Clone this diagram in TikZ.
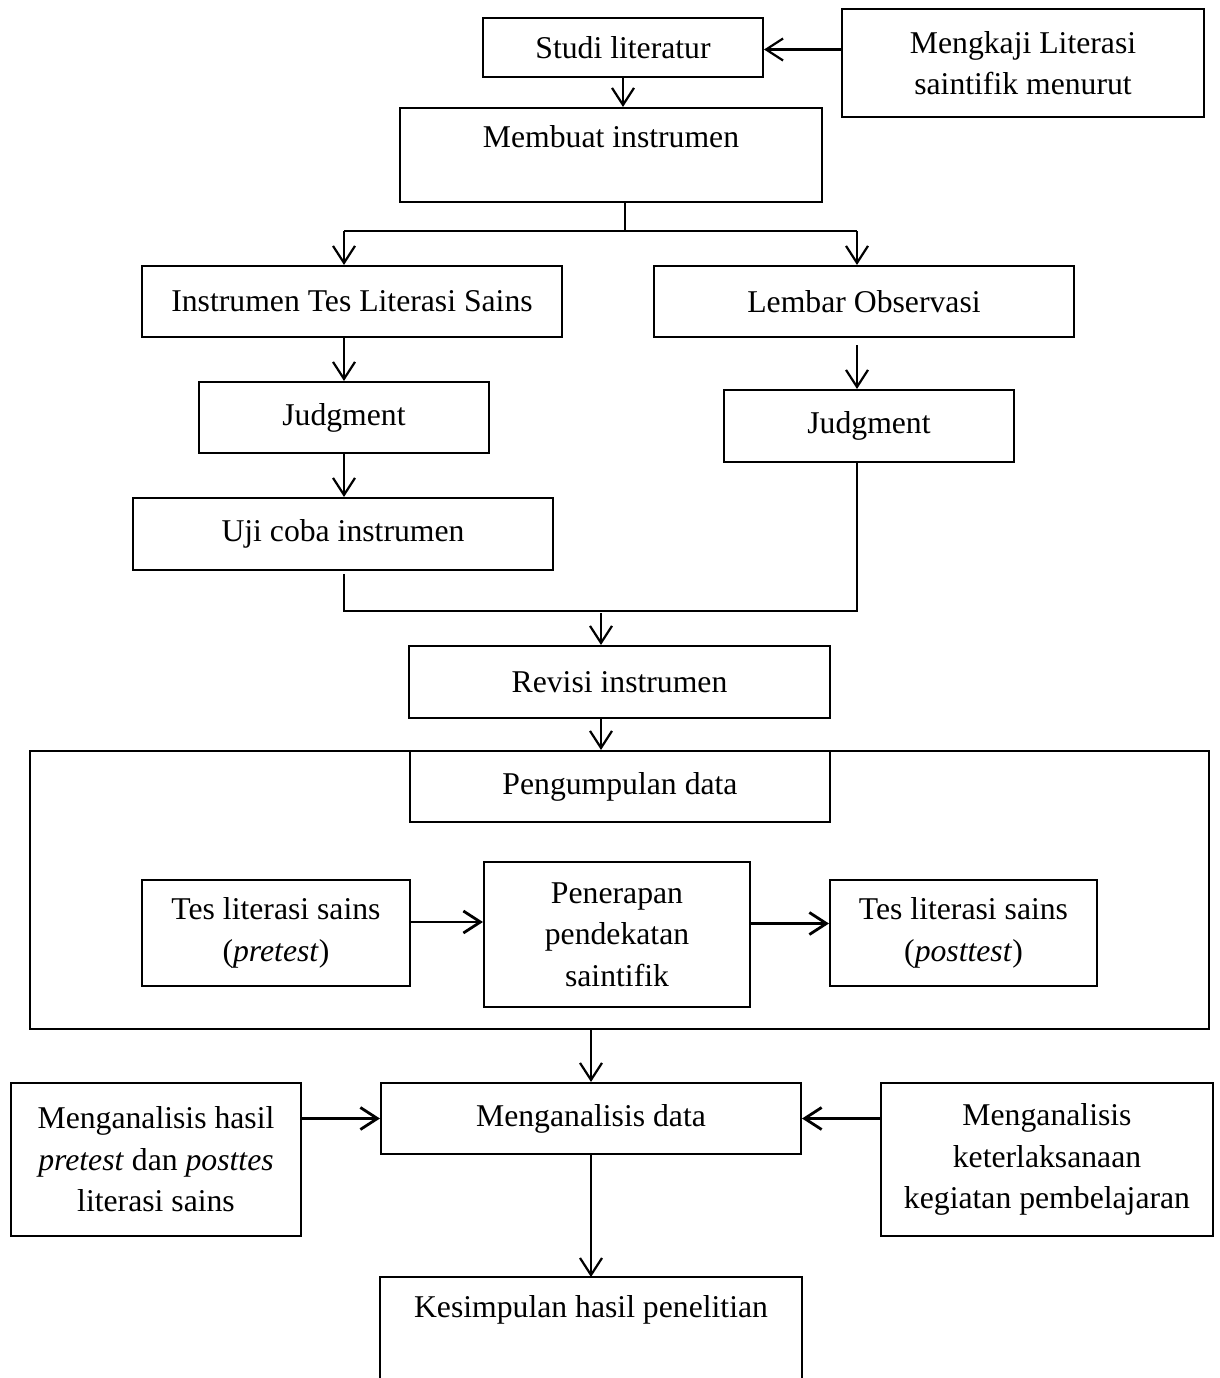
\documentclass[tikz,border=0pt]{standalone}
\usepackage{fontspec}
\setmainfont{Liberation Serif}
\usetikzlibrary{arrows.meta}

\begin{document}
\begin{tikzpicture}[x=1pt, y=-1pt,
        font=\fontsize{31.7}{41.5}\selectfont,
        box/.style={draw, line width=2.1pt, align=center, inner sep=0pt},
        arr/.style={line width=2.2pt, -{Straight Barb[length=17pt, width=22pt]}},
        thickarr/.style={arr, line width=2.8pt}]
        % 0. Page frame
        \path[use as bounding box] (0,0) rectangle (1219,1378);
        \coordinate (bottom) at (0,1378);

        % 1. Top row
        \node[box, minimum width=280pt, minimum height=59pt] (studi) at (623,47.5) {Studi literatur};
        \node[box, minimum width=362pt, minimum height=108pt] (mengkaji) at (1023,63) {Mengkaji Literasi\\saintifik menurut};
        \node[box, minimum width=422pt, minimum height=94pt, text depth=37pt] (membuat) at (611,155) {Membuat instrumen};

        % 2. Two columns of instruments
        \node[box, minimum width=420pt, minimum height=71pt] (instrumen) at (352,301.5) {Instrumen Tes Literasi Sains};
        \node[box, minimum width=420pt, minimum height=71pt] (lembar) at (864,301.5) {Lembar Observasi};
        \node[box, minimum width=290pt, minimum height=71pt] (judgeL) at (344,417.5) {Judgment};
        \node[box, minimum width=290pt, minimum height=72pt] (judgeR) at (869,426) {Judgment};
        \node[box, minimum width=420pt, minimum height=72pt] (uji) at (343,534) {Uji coba instrumen};
        \node[box, minimum width=421pt, minimum height=72pt] (revisi) at (619.5,682) {Revisi instrumen};

        % 3. Data collection block
        \node[box, minimum width=1179pt, minimum height=278pt] (outer) at (619.5,890) {};
        \node[box, minimum width=420pt, minimum height=71pt] (kumpul) at (620,786.5) {Pengumpulan data};
        \node[box, minimum width=268pt, minimum height=106pt] (pre) at (276,933) {Tes literasi sains\\(\textit{pretest})};
        \node[box, minimum width=266pt, minimum height=145pt] (terap) at (617,934.5) {Penerapan\\pendekatan\\saintifik};
        \node[box, minimum width=267pt, minimum height=106pt] (post) at (963.5,933) {Tes literasi sains\\(\textit{posttest})};

        % 4. Analysis row
        \node[box, minimum width=290pt, minimum height=153pt] (mhasil) at (156,1159.5) {Menganalisis hasil\\\textit{pretest} dan \textit{posttes}\\literasi sains};
        \node[box, minimum width=420pt, minimum height=71pt] (mdata) at (591,1118.5) {Menganalisis data};
        \node[box, minimum width=332pt, minimum height=153pt] (mket) at (1047,1159.5) {Menganalisis\\keterlaksanaan\\kegiatan pembelajaran};

        % 5. Conclusion (box runs off the page)
        \node[box, draw=none, minimum width=420pt, minimum height=94pt, text depth=37pt, anchor=north] (kes) at (591,1277) {Kesimpulan hasil penelitian};
        \draw[line width=2.1pt] (kes.north west |- bottom) -- (kes.north west) -- (kes.north east) -- (kes.north east |- bottom);

        % 6. Connectors
        \coordinate (split) at (625,231);
        \coordinate (lcol) at (344,231);
        \coordinate (rcol) at (857,231);
        \coordinate (join) at (601,611);
        \draw[arr] ([yshift=-2pt]mengkaji.west |- studi.east) -- ([yshift=-2pt]studi.east);
        \draw[arr] (studi.south) -- (studi.south |- membuat.north);
        \draw[line width=2.2pt] (split |- membuat.south) -- (split);
        \draw[line width=2.2pt] (lcol) -- (rcol);
        \draw[arr] (lcol) -- (lcol |- instrumen.north);
        \draw[arr] (rcol) -- (rcol |- lembar.north);
        \draw[arr] (lcol |- instrumen.south) -- (lcol |- judgeL.north);
        \draw[arr, shorten <=7pt] (rcol |- lembar.south) -- (rcol |- judgeR.north);
        \draw[arr] (lcol |- judgeL.south) -- (lcol |- uji.north);
        \draw[line width=2.2pt, shorten <=3pt] (lcol |- uji.south) -- (lcol |- join) -- (rcol |- join) -- (rcol |- judgeR.south);
        \draw[arr, shorten <=2pt] (join) -- (join |- revisi.north);
        \draw[arr] (join |- revisi.south) -- (join |- outer.north);
        \draw[thickarr] ([yshift=11pt]pre.east) -- ([yshift=11pt]pre.east -| terap.west);
        \draw[thickarr] ([yshift=11pt]terap.east) -- ([yshift=11pt]terap.east -| post.west);
        \draw[arr] (mdata.north |- outer.south) -- (mdata.north);
        \draw[thickarr] (mhasil.east |- mdata.west) -- (mdata.west);
        \draw[thickarr] (mket.west |- mdata.east) -- (mdata.east);
        \draw[arr] (mdata.south) -- (mdata.south |- kes.north);
    \end{tikzpicture}
\end{document}
